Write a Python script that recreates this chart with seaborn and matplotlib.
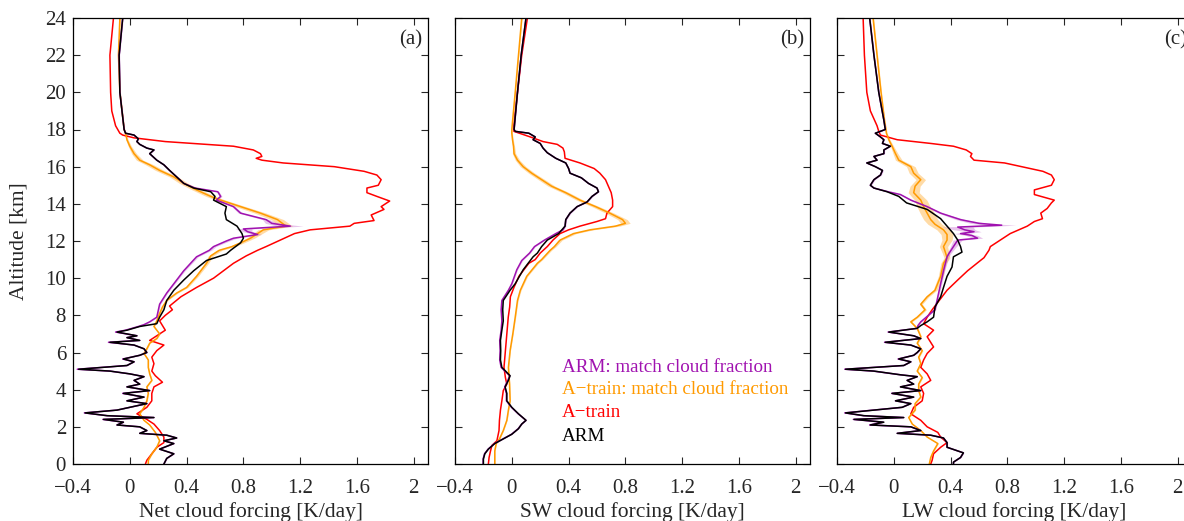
import numpy as np
import matplotlib
matplotlib.use("Agg")
import matplotlib.pyplot as plt
import seaborn as sns
from matplotlib.ticker import FuncFormatter

# ---------------- data (altitude in km, forcing in K/day) ----------------
# Panel (a) Net cloud forcing
net_red_alt = [24, 22, 20, 19, 18.2, 17.8, 17.7, 17.55, 17.35, 17.1, 16.9, 16.7, 16.55, 16.45, 16.35, 16.2, 16.0,
               15.75, 15.55, 15.3, 15.0, 14.85, 14.6, 14.4, 14.15, 13.85, 13.7, 13.4, 13.1, 12.95, 12.8, 12.6,
               12.4, 12.05, 11.7, 11.5, 11.2, 10.8, 10.0, 9.5, 9.0, 8.5, 8.3, 8.0, 7.7, 7.45, 7.2, 6.9, 6.65,
               6.4, 6.1, 5.75, 5.4, 5.0, 4.75, 4.4, 4.15, 3.8, 3.4, 3.05, 2.7, 2.4, 2.15, 1.8, 1.45, 1.15, 0.9,
               0.55, 0.2, 0]
net_red = [-0.115, -0.14, -0.135, -0.127, -0.10, -0.07, -0.05, 0.03, 0.25, 0.73, 0.87, 0.92, 0.93, 0.89, 0.93,
           1.08, 1.44, 1.65, 1.74, 1.77, 1.75, 1.67, 1.67, 1.74, 1.83, 1.77, 1.79, 1.70, 1.72, 1.58, 1.55, 1.27,
           1.16, 1.06, 0.96, 0.90, 0.82, 0.73, 0.59, 0.47, 0.36, 0.28, 0.30, 0.25, 0.21, 0.23, 0.25, 0.19, 0.14,
           0.24, 0.19, 0.155, 0.17, 0.155, 0.18, 0.23, 0.17, 0.155, 0.155, 0.12, 0.05, 0.12, 0.17, 0.21, 0.24,
           0.24, 0.19, 0.155, 0.12, 0.11]
net_orange_alt = [24, 22, 20, 18, 17.8, 17.45, 17.1, 16.7, 16.35, 16.1, 15.8, 15.45, 15.1, 14.75, 14.4, 14.2, 13.85,
                  13.5, 13.15, 12.8, 12.6, 12.4, 12.15, 11.9, 11.7, 11.5, 11.2, 10.8, 10.1, 9.5, 9.2, 8.8, 8.45,
                  8.1, 7.7, 7.4, 7.0, 6.75, 6.5, 6.2, 5.95, 5.6, 5.2, 4.85, 4.5, 4.15, 3.8, 3.4, 3.05, 2.7, 2.35,
                  2.1, 1.7, 1.25, 0.9, 0.55, 0.2, 0]
net_orange = [-0.07, -0.08, -0.07, -0.04, -0.03, -0.02, 0.0, 0.03, 0.07, 0.14, 0.21, 0.31, 0.38, 0.47, 0.57, 0.64,
              0.78, 0.92, 1.04, 1.10, 0.94, 0.90, 0.85, 0.78, 0.72, 0.63, 0.57, 0.54, 0.47, 0.40, 0.33, 0.26, 0.23,
              0.21, 0.19, 0.17, 0.21, 0.19, 0.14, 0.12, 0.10, 0.13, 0.13, 0.14, 0.155, 0.12, 0.13, 0.12, 0.10, 0.07,
              0.10, 0.14, 0.18, 0.21, 0.19, 0.155, 0.13, 0.13]
net_black_alt = [24, 22, 20, 18, 17.8, 17.7, 17.5, 17.35, 17.2, 17.0, 16.9, 16.7, 16.35, 16.1, 15.8, 15.45, 15.1,
                 14.85, 14.65, 14.4, 14.2, 13.85, 13.5, 13.15, 12.8, 12.4, 12.15, 11.9, 11.5, 11.3, 10.95, 10.4,
                 9.9, 9.35, 8.8, 8.3, 7.9, 7.55, 7.4, 7.2, 7.1, 6.9, 6.8, 6.65, 6.55, 6.4, 6.2, 6.0, 5.85, 5.65,
                 5.5, 5.3, 5.1, 5.0, 4.85, 4.7, 4.5, 4.3, 4.15, 3.95, 3.8, 3.6, 3.4, 3.25, 3.05, 2.9, 2.75, 2.6,
                 2.5, 2.4, 2.25, 2.1, 2.0, 1.8, 1.65, 1.55, 1.4, 1.25, 1.1, 0.8, 0.55, 0.3, 0]
net_black = [-0.05, -0.075, -0.07, -0.04, -0.03, 0.03, 0.06, 0.05, 0.07, 0.12, 0.17, 0.14, 0.19, 0.24, 0.28, 0.33,
             0.38, 0.45, 0.57, 0.60, 0.59, 0.68, 0.67, 0.68, 0.755, 0.79, 0.80, 0.78, 0.71, 0.68, 0.54, 0.45, 0.38,
             0.31, 0.26, 0.24, 0.21, 0.19, 0.07, -0.02, -0.09, 0.05, -0.02, 0.07, -0.14, 0.03, 0.10, 0.12, 0.07,
             -0.045, 0.03, -0.02, -0.36, -0.14, 0.0, 0.10, 0.03, 0.07, -0.02, 0.14, -0.045, 0.10, -0.02, 0.12, 0.0,
             -0.09, -0.315, -0.16, 0.17, -0.185, -0.045, -0.09, 0.07, 0.12, 0.07, 0.26, 0.33, 0.24, 0.31, 0.21,
             0.31, 0.26, 0.24]
net_purple_alt = [24, 22, 20, 18, 17.8, 17.7, 17.5, 17.35, 17.2, 17.0, 16.9, 16.7, 16.35, 16.1, 15.8, 15.45, 15.1,
                  14.85, 14.65, 14.4, 14.2, 13.85, 13.5, 13.15, 12.95, 12.8, 12.65, 12.5, 12.35, 12.15, 12.0, 11.7,
                  11.5, 11.15, 10.4, 9.7, 9.2, 8.6, 7.9, 7.65, 7.5, 7.4, 7.2, 7.1, 6.9, 6.8, 6.65, 6.55, 6.4, 6.2,
                  6.0, 5.85, 5.65, 5.5, 5.3, 5.1, 5.0, 4.85, 4.7, 4.5, 4.3, 4.15, 3.95, 3.8, 3.6, 3.4, 3.25, 3.05,
                  2.9, 2.75, 2.6, 2.5, 2.4, 2.25, 2.1, 2.0, 1.8, 1.65, 1.55, 1.4, 1.25, 1.1, 0.8, 0.55, 0.3, 0]
net_purple = [-0.05, -0.075, -0.07, -0.04, -0.03, 0.03, 0.06, 0.05, 0.07, 0.12, 0.17, 0.14, 0.19, 0.24, 0.28, 0.33,
              0.38, 0.46, 0.62, 0.64, 0.61, 0.73, 0.78, 0.96, 1.00, 1.13, 0.80, 0.83, 0.90, 0.73, 0.68, 0.59, 0.56,
              0.47, 0.38, 0.31, 0.26, 0.21, 0.19, 0.14, 0.10, 0.06, -0.03, -0.10, 0.05, -0.02, 0.07, -0.15, 0.03,
              0.10, 0.12, 0.07, -0.05, 0.03, -0.02, -0.37, -0.14, 0.0, 0.10, 0.03, 0.07, -0.02, 0.14, -0.05, 0.10,
              -0.02, 0.12, 0.0, -0.09, -0.32, -0.16, 0.17, -0.19, -0.045, -0.09, 0.07, 0.12, 0.07, 0.26, 0.33, 0.24,
              0.31, 0.21, 0.31, 0.26, 0.24]

# Panel (b) SW cloud forcing
sw_red_alt = [24, 22, 20, 18.2, 17.9, 17.6, 17.35, 17.2, 17.0, 16.8, 16.45, 16.2, 15.9, 15.65, 15.3, 14.95, 14.6,
              14.2, 13.85, 13.5, 13.2, 13.05, 12.8, 12.6, 12.4, 12.05, 11.7, 11.35, 11.0, 10.8, 10.1, 9.5, 9.0,
              8.45, 7.9, 7.0, 6.1, 5.2, 4.65, 4.3, 3.95, 3.4, 2.9, 2.35, 1.8, 1.25, 1.0, 0.7, 0.35, 0]
sw_red = [0.11, 0.07, 0.04, 0.015, 0.015, 0.13, 0.22, 0.32, 0.36, 0.37, 0.375, 0.48, 0.58, 0.62, 0.66, 0.68, 0.70,
          0.71, 0.71, 0.67, 0.66, 0.60, 0.48, 0.40, 0.34, 0.29, 0.25, 0.20, 0.165, 0.12, 0.05, 0.015, -0.01, -0.015,
          -0.025, -0.035, -0.045, -0.055, -0.045, -0.035, -0.06, -0.07, -0.08, -0.087, -0.09, -0.105, -0.14, -0.15,
          -0.16, -0.165]
sw_orange_alt = [24, 22, 20, 18, 17.8, 17.45, 17.1, 16.7, 16.35, 16.0, 15.65, 15.3, 14.95, 14.6, 14.2, 13.85, 13.5,
                 13.15, 12.95, 12.8, 12.6, 12.4, 12.05, 11.7, 11.5, 11.0, 10.8, 10.1, 9.35, 8.8, 7.9, 7.0, 6.1, 5.2,
                 4.3, 3.4, 2.9, 2.35, 1.8, 1.35, 1.1, 0.7, 0.35, 0]
sw_orange = [0.07, 0.047, 0.024, 0.0, 0.0, 0.005, 0.012, 0.016, 0.04, 0.08, 0.14, 0.21, 0.28, 0.38, 0.48, 0.59, 0.69,
             0.78, 0.80, 0.73, 0.55, 0.435, 0.34, 0.30, 0.27, 0.21, 0.18, 0.105, 0.06, 0.04, 0.024, 0.007, -0.012,
             -0.024, -0.016, -0.012, -0.024, -0.035, -0.06, -0.087, -0.11, -0.12, -0.12, -0.12]
sw_black_alt = [24, 22, 20, 18, 17.9, 17.8, 17.6, 17.45, 17.25, 17.0, 16.75, 16.45, 16.2, 15.9, 15.65, 15.4, 15.1,
                14.85, 14.65, 14.4, 14.1, 13.85, 13.5, 13.15, 12.8, 12.4, 12.05, 11.7, 11.35, 11.15, 10.45, 9.7,
                9.35, 8.8, 8.3, 7.7, 7.2, 6.65, 6.1, 5.6, 5.2, 4.75, 4.5, 4.15, 3.8, 3.4, 3.05, 2.7, 2.35, 2.15, 1.9,
                1.6, 1.35, 1.1, 0.8, 0.55, 0.27, 0]
sw_black = [0.10, 0.066, 0.04, 0.016, 0.024, 0.12, 0.165, 0.15, 0.20, 0.22, 0.25, 0.31, 0.38, 0.40, 0.41, 0.49, 0.54,
            0.60, 0.61, 0.565, 0.53, 0.46, 0.41, 0.38, 0.375, 0.33, 0.25, 0.21, 0.18, 0.15, 0.08, 0.024, -0.012,
            -0.06, -0.064, -0.06, -0.07, -0.08, -0.078, -0.08, -0.07, -0.012, -0.024, -0.047, -0.035, -0.035, 0.0,
            0.047, 0.10, 0.07, 0.047, 0.0, -0.06, -0.12, -0.165, -0.19, -0.20, -0.20]
sw_purple_alt = [24, 22, 20, 18, 17.9, 17.8, 17.6, 17.45, 17.25, 17.0, 16.75, 16.45, 16.2, 15.9, 15.65, 15.4, 15.1,
                 14.85, 14.65, 14.4, 14.1, 13.85, 13.5, 13.15, 12.8, 12.6, 12.4, 12.05, 11.7, 11.35, 10.95, 10.45,
                 9.7, 9.35, 8.8, 8.3, 7.7, 7.2, 6.65, 6.1, 5.6, 5.2, 4.75, 4.5, 4.15, 3.8, 3.4, 3.05, 2.7, 2.35,
                 2.15, 1.9, 1.6, 1.35, 1.1, 0.8, 0.55, 0.27, 0]
sw_purple = [0.10, 0.066, 0.04, 0.016, 0.024, 0.12, 0.165, 0.15, 0.20, 0.22, 0.25, 0.31, 0.38, 0.40, 0.41, 0.49, 0.54,
             0.60, 0.61, 0.565, 0.53, 0.46, 0.41, 0.38, 0.375, 0.36, 0.31, 0.23, 0.16, 0.125, 0.07, 0.035, 0.0,
             -0.024, -0.07, -0.075, -0.07, -0.075, -0.085, -0.082, -0.085, -0.075, -0.015, -0.028, -0.05, -0.038,
             -0.038, -0.002, 0.045, 0.10, 0.07, 0.045, -0.002, -0.062, -0.122, -0.167, -0.192, -0.202, -0.202]

# Panel (c) LW cloud forcing
lw_red_alt = [24, 22, 20, 19, 18.2, 17.9, 17.7, 17.45, 17.25, 17.1, 16.9, 16.7, 16.55, 16.35, 16.2, 15.9, 15.75,
              15.55, 15.3, 15.0, 14.75, 14.5, 14.2, 14.05, 13.75, 13.5, 13.2, 13.05, 12.8, 12.4, 12.05, 11.7, 11.5,
              11.1, 10.95, 10.4, 9.9, 9.35, 8.8, 8.3, 7.9, 7.55, 7.2, 6.85, 6.3, 5.95, 5.6, 5.2, 4.85, 4.5, 4.15,
              3.8, 3.4, 3.05, 2.7, 2.35, 2.0, 1.7, 1.45, 1.15, 0.9, 0.55, 0.2, 0]
lw_red = [-0.216, -0.207, -0.19, -0.165, -0.118, -0.106, -0.094, 0.024, 0.26, 0.42, 0.51, 0.55, 0.54, 0.565, 0.78,
          0.96, 1.05, 1.11, 1.13, 1.11, 0.99, 0.99, 1.13, 1.11, 1.08, 1.035, 1.047, 0.99, 0.94, 0.82, 0.75, 0.68,
          0.67, 0.635, 0.61, 0.52, 0.45, 0.375, 0.32, 0.27, 0.235, 0.21, 0.28, 0.235, 0.28, 0.235, 0.21, 0.19, 0.235,
          0.26, 0.19, 0.21, 0.20, 0.14, 0.12, 0.19, 0.235, 0.31, 0.33, 0.375, 0.33, 0.28, 0.27, 0.26]
lw_orange_alt = [24, 22, 20, 18.5, 17.8, 17.45, 17.1, 16.7, 16.35, 16.0, 15.65, 15.3, 14.95, 14.6, 14.2, 13.85, 13.5,
                 13.15, 12.9, 12.6, 12.35, 12.05, 11.7, 11.35, 11.1, 10.8, 10.1, 9.35, 9.0, 8.6, 8.3, 7.9, 7.65, 7.3,
                 6.85, 6.5, 6.1, 5.75, 5.4, 5.0, 4.65, 4.3, 3.95, 3.6, 3.25, 2.9, 2.5, 2.15, 1.8, 1.45, 1.1, 0.7,
                 0.35, 0]
lw_orange = [-0.146, -0.118, -0.09, -0.066, -0.052, -0.035, -0.012, 0.012, 0.035, 0.12, 0.14, 0.19, 0.15, 0.14,
             0.19, 0.21, 0.235, 0.26, 0.29, 0.35, 0.375, 0.375, 0.35, 0.365, 0.375, 0.35, 0.33, 0.29, 0.235, 0.19,
             0.22, 0.165, 0.12, 0.165, 0.19, 0.165, 0.20, 0.175, 0.19, 0.165, 0.20, 0.175, 0.175, 0.19, 0.15, 0.15,
             0.105, 0.13, 0.19, 0.235, 0.31, 0.28, 0.26, 0.25]
lw_black_alt = [24, 22, 20, 18.5, 18.0, 17.8, 17.6, 17.45, 17.25, 17.1, 16.9, 16.7, 16.55, 16.35, 16.2, 16.0, 15.8,
                15.55, 15.3, 15.0, 14.85, 14.65, 14.4, 14.05, 13.7, 13.2, 12.8, 12.4, 12.05, 11.7, 11.4, 11.15, 10.6,
                10.1, 9.5, 9.0, 8.45, 7.9, 7.65, 7.45, 7.3, 7.1, 6.9, 6.75, 6.55, 6.4, 6.2, 6.0, 5.85, 5.65, 5.5,
                5.3, 5.1, 5.0, 4.8, 4.7, 4.5, 4.3, 4.15, 3.95, 3.8, 3.6, 3.4, 3.25, 3.05, 2.9, 2.75, 2.6, 2.5, 2.4,
                2.25, 2.1, 2.0, 1.8, 1.65, 1.55, 1.4, 1.15, 0.9, 0.6, 0.35, 0.1, 0]
lw_black = [-0.17, -0.14, -0.106, -0.07, -0.06, -0.13, -0.094, -0.07, -0.08, -0.024, -0.07, -0.07, -0.14, -0.118,
            -0.19, -0.13, -0.08, -0.094, -0.14, -0.165, -0.14, -0.047, 0.035, 0.09, 0.235, 0.33, 0.375, 0.42, 0.45,
            0.47, 0.48, 0.42, 0.41, 0.375, 0.35, 0.33, 0.29, 0.28, 0.235, 0.19, 0.165, -0.035, 0.14, 0.19, -0.06,
            0.12, 0.19, 0.165, 0.14, 0.035, 0.12, 0.07, -0.34, -0.14, 0.047, 0.165, 0.094, 0.14, 0.047, 0.19,
            -0.012, 0.14, 0.012, 0.12, 0.059, -0.14, -0.34, -0.21, 0.07, -0.28, -0.07, -0.165, 0.12, 0.19, 0.024,
            0.26, 0.35, 0.375, 0.375, 0.49, 0.47, 0.42, 0.42]
lw_purple_alt = [24, 22, 20, 18.5, 18.0, 17.8, 17.6, 17.45, 17.25, 17.1, 16.9, 16.7, 16.55, 16.35, 16.2, 16.0, 15.8,
                 15.55, 15.3, 15.0, 14.85, 14.65, 14.5, 14.2, 13.85, 13.5, 13.15, 12.95, 12.85, 12.75, 12.6, 12.5,
                 12.4, 12.3, 12.15, 12.05, 11.7, 11.35, 11.15, 10.4, 9.7, 9.0, 8.3, 7.65, 7.45, 7.3, 7.1, 6.9, 6.75,
                 6.55, 6.4, 6.2, 6.0, 5.85, 5.65, 5.5, 5.3, 5.1, 5.0, 4.8, 4.7, 4.5, 4.3, 4.15, 3.95, 3.8, 3.6, 3.4,
                 3.25, 3.05, 2.9, 2.75, 2.6, 2.5, 2.4, 2.25, 2.1, 2.0, 1.8, 1.65, 1.55, 1.4, 1.15, 0.9, 0.6, 0.35,
                 0.1, 0]
lw_purple = [-0.17, -0.14, -0.106, -0.07, -0.06, -0.13, -0.094, -0.07, -0.08, -0.024, -0.07, -0.07, -0.14, -0.118,
             -0.19, -0.13, -0.08, -0.094, -0.14, -0.165, -0.14, -0.04, 0.047, 0.12, 0.235, 0.33, 0.47, 0.60, 0.76,
             0.45, 0.50, 0.565, 0.47, 0.55, 0.59, 0.45, 0.42, 0.39, 0.375, 0.35, 0.33, 0.31, 0.29, 0.19, 0.17,
             0.165, -0.04, 0.14, 0.19, -0.065, 0.12, 0.19, 0.165, 0.14, 0.03, 0.12, 0.07, -0.345, -0.145, 0.047,
             0.165, 0.094, 0.14, 0.047, 0.19, -0.015, 0.14, 0.012, 0.12, 0.059, -0.145, -0.345, -0.215, 0.07,
             -0.285, -0.075, -0.17, 0.12, 0.19, 0.024, 0.26, 0.35, 0.375, 0.375, 0.49, 0.47, 0.42, 0.42]

# Uncertainty half-widths of the matched-cloud-fraction profiles (shaded bands)
band_alt = [0, 7, 9, 11, 11.5, 12, 12.5, 12.8, 13, 13.5, 14, 15, 16, 17, 18, 24]
net_orange_band = [0.004, 0.004, 0.008, 0.015, 0.02, 0.025, 0.035, 0.045, 0.045, 0.04, 0.035, 0.03, 0.03, 0.012, 0.004, 0.004]
net_purple_band = [0.004, 0.004, 0.006, 0.01, 0.015, 0.02, 0.03, 0.09, 0.03, 0.015, 0.01, 0.008, 0.006, 0.005, 0.004, 0.004]
sw_orange_band = [0.003, 0.003, 0.005, 0.008, 0.01, 0.015, 0.02, 0.03, 0.035, 0.03, 0.025, 0.025, 0.02, 0.008, 0.003, 0.003]
sw_purple_band = [0.003, 0.003, 0.004, 0.006, 0.006, 0.006, 0.006, 0.006, 0.006, 0.006, 0.006, 0.005, 0.005, 0.004, 0.003, 0.003]
lw_orange_band = [0.004, 0.006, 0.012, 0.02, 0.025, 0.035, 0.045, 0.05, 0.05, 0.05, 0.045, 0.035, 0.03, 0.012, 0.004, 0.004]
lw_purple_band = [0.004, 0.004, 0.006, 0.01, 0.015, 0.03, 0.05, 0.12, 0.04, 0.015, 0.01, 0.008, 0.006, 0.005, 0.004, 0.004]

x_ticks = [-0.4, 0, 0.4, 0.8, 1.2, 1.6, 2]
y_ticks = list(range(0, 25, 2))
x_labels = ["Net cloud forcing [K/day]", "SW cloud forcing [K/day]", "LW cloud forcing [K/day]"]
panel_tags = ["(a)", "(b)", "(c)"]
legend_names = ["ARM: match cloud fraction", "A\u2212train: match cloud fraction", "A\u2212train", "ARM"]

# ---------------- styling ----------------
sns.set_style("ticks")
plt.rcParams["font.family"] = ["Liberation Serif", "DejaVu Serif"]
plt.rcParams["axes.unicode_minus"] = True

C_PURPLE = "#a012b0"
C_ORANGE = "#ff9a00"
C_RED = "#ff0000"
C_BLACK = "#000000"

fig = plt.figure(figsize=(11.84, 5.21), dpi=100)
lefts = [73 / 1184, 455 / 1184, 837 / 1184]
bottom = 1 - 464 / 521
height = (464 - 18) / 521
width = 355 / 1184

panels = [
    (net_red_alt, net_red, net_orange_alt, net_orange, net_purple_alt, net_purple, net_black_alt, net_black,
     net_orange_band, net_purple_band),
    (sw_red_alt, sw_red, sw_orange_alt, sw_orange, sw_purple_alt, sw_purple, sw_black_alt, sw_black,
     sw_orange_band, sw_purple_band),
    (lw_red_alt, lw_red, lw_orange_alt, lw_orange, lw_purple_alt, lw_purple, lw_black_alt, lw_black,
     lw_orange_band, lw_purple_band),
]

fmt = FuncFormatter(lambda v, p: ("%g" % round(v, 2)).replace("-", "\u2212"))

for i, (ra, rv, oa, ov, pa, pv, ba, bv, ob, pb) in enumerate(panels):
    ax = fig.add_axes([lefts[i], bottom, width, height])
    oa_, ov_ = np.array(oa), np.array(ov)
    pa_, pv_ = np.array(pa), np.array(pv)
    ow = np.interp(oa_, band_alt, ob)
    pw = np.interp(pa_, band_alt, pb)
    ax.fill_betweenx(oa_, ov_ - ow, ov_ + ow, color=C_ORANGE, alpha=0.35, lw=0)
    ax.fill_betweenx(pa_, pv_ - pw, pv_ + pw, color=C_PURPLE, alpha=0.25, lw=0)
    sns.lineplot(x=rv, y=ra, orient="y", sort=False, estimator=None, color=C_RED, lw=1.1, ax=ax)
    sns.lineplot(x=ov, y=oa, orient="y", sort=False, estimator=None, color=C_ORANGE, lw=1.1, ax=ax)
    sns.lineplot(x=pv, y=pa, orient="y", sort=False, estimator=None, color=C_PURPLE, lw=1.1, ax=ax)
    sns.lineplot(x=bv, y=ba, orient="y", sort=False, estimator=None, color=C_BLACK, lw=1.1, ax=ax)

    ax.set_xlim(-0.4, 2.1)
    ax.set_ylim(0, 24)
    ax.set_xticks(x_ticks)
    ax.set_yticks(y_ticks)
    ax.xaxis.set_major_formatter(fmt)
    ax.tick_params(direction="in", top=True, right=True, length=5, width=0.8, labelsize=15)
    ax.tick_params(axis="x", pad=10.5)
    ax.tick_params(axis="y", pad=5)
    for s in ax.spines.values():
        s.set_linewidth(0.9)
        s.set_color("black")
    ax.set_xlabel(x_labels[i], fontsize=15.5, labelpad=3)
    if i == 0:
        ax.set_ylabel("Altitude [km]", fontsize=15.5, labelpad=12)
    else:
        ax.set_ylabel("")
        ax.tick_params(labelleft=False)
    ax.text(0.985, 0.95, panel_tags[i], transform=ax.transAxes, ha="right", va="center", fontsize=15)

    if i == 1:
        leg_colors = [C_PURPLE, C_ORANGE, C_RED, C_BLACK]
        leg_y = [5.2, 4.0, 2.75, 1.5]
        for name, c, yy in zip(legend_names, leg_colors, leg_y):
            ax.text(0.353, yy, name, color=c, fontsize=13.7, ha="left", va="center")

fig.savefig("out.png", dpi=100)
